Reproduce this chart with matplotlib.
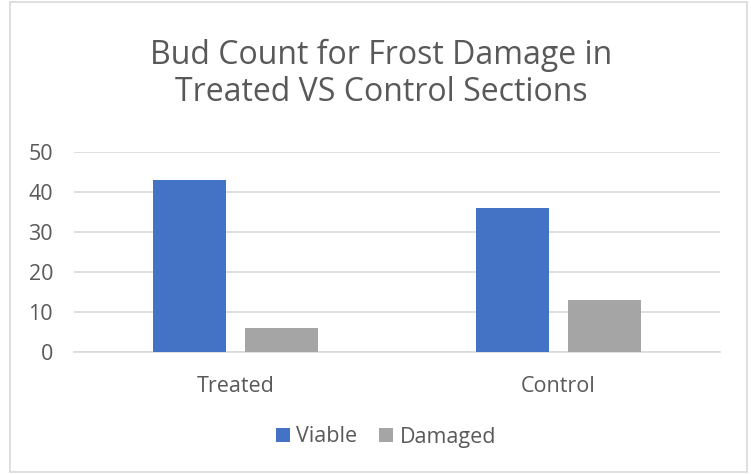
import numpy as np
import matplotlib.pyplot as plt
from matplotlib.patches import Rectangle

categories = ['Treated', 'Control']
viable = [43, 36]
damaged = [6, 13]
yticks = [0, 10, 20, 30, 40, 50]

plt.rcParams['font.family'] = ['Open Sans', 'DejaVu Sans']
text_color = '#595959'

W, H = 751, 474
fig = plt.figure(figsize=(W / 100, H / 100), dpi=100)

# chart area border
fig.patches.append(Rectangle((10 / W, 1 - 472 / H), 737 / W, 470 / H,
                             transform=fig.transFigure, fill=False,
                             edgecolor='#d9d9d9', linewidth=1.2))

ax = fig.add_axes([74 / W, 1 - 352 / H, 646 / W, 200 / H])

x = np.arange(len(categories))
width = 0.226
offset = 0.142
ax.bar(x - offset, viable, width, color='#4472C4', label='Viable', zorder=3)
ax.bar(x + offset, damaged, width, color='#A5A5A5', label='Damaged', zorder=3)

ax.set_xlim(-0.5, 1.5)
ax.set_ylim(0, 50)
ax.set_yticks(yticks)
ax.set_xticks(x)
ax.set_xticklabels(categories)
ax.grid(axis='y', color='#d9d9d9', linewidth=1.2, zorder=0)
for s in ['top', 'right', 'left']:
    ax.spines[s].set_visible(False)
ax.spines['bottom'].set_color('#d9d9d9')
ax.spines['bottom'].set_linewidth(1.2)
ax.tick_params(axis='both', length=0, labelsize=15.5, colors=text_color)
ax.tick_params(axis='y', pad=15)
ax.tick_params(axis='x', pad=17)

fig.text(381 / W, 1 - 74 / H, 'Bud Count for Frost Damage in\nTreated VS Control Sections',
         ha='center', va='center', fontsize=23, color=text_color, linespacing=1.16)

fig.legend(loc='center', bbox_to_anchor=(386 / W, 1 - 437 / H), ncol=2, frameon=False,
           fontsize=15.5, labelcolor=text_color, handlelength=0.65, handleheight=0.65,
           handletextpad=0.3, columnspacing=1.0)

fig.savefig('out.png', dpi=100)
